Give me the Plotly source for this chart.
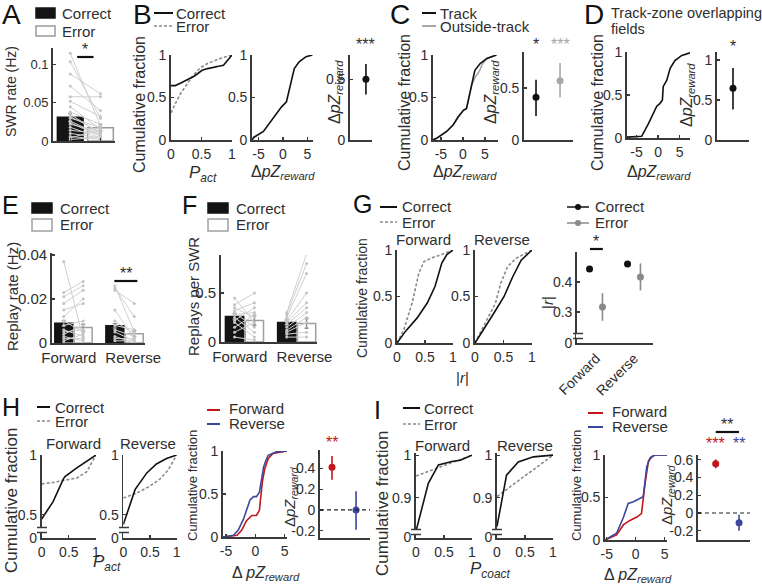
import plotly.graph_objects as go

W, H = 762, 587
AXIS = "#3a3a3a"
TEXT = "#2e2e2e"
PAIR = "#d0d0d0"
GRAY = "#8a8a8a"
LIGHT = "#a8a8a8"
RED = "#c3161c"
BLUE = "#3b479c"
FONT = "Liberation Sans, Arial, sans-serif"

# ---------------- data ----------------
# A: SWR rate, correct vs error
swr_groups = ["Correct", "Error"]
swr_mean = [0.031, 0.0175]
swr_sem = [0.005, 0.004]
swr_correct = [0.115, 0.104, 0.088, 0.072, 0.058, 0.052, 0.045, 0.038, 0.035, 0.032,
               0.030, 0.026, 0.024, 0.022, 0.018, 0.014, 0.010, 0.006, 0.004, 0.002]
swr_error = [0.020, 0.030, 0.062, 0.040, 0.058, 0.032, 0.015, 0.022, 0.010, 0.012,
             0.018, 0.008, 0.006, 0.012, 0.004, 0.010, 0.004, 0.002, 0.015, 0.005]

# B: P_act cdf, dpZ cdf, mean dpZ
pact_cor_x = [0, 0.07, 0.16, 0.31, 0.38, 0.51, 0.6, 0.8, 0.86, 1.0]
pact_cor_y = [0.64, 0.64, 0.67, 0.73, 0.75, 0.82, 0.84, 0.87, 0.88, 1.0]
pact_err_x = [0, 0.05, 0.1, 0.16, 0.26, 0.35, 0.48, 0.6, 0.7, 0.85, 1.0]
pact_err_y = [0.32, 0.4, 0.47, 0.55, 0.66, 0.75, 0.85, 0.9, 0.93, 0.97, 1.0]
dpz_x = [-6.3, -6.0, -4.0, -2.7, -1.3, -0.3, 0.7, 1.0, 1.7, 2.3, 3.3, 4.7, 6.0]
dpz_y = [0.0, 0.03, 0.1, 0.2, 0.31, 0.39, 0.45, 0.53, 0.71, 0.84, 0.92, 0.98, 1.0]
dpz_mean = [0.5]
dpz_ci = [0.125]

# C: track vs outside-track
track_x = [-6.8, -6.0, -3.7, -2.2, -1.1, 0.1, 0.8, 1.2, 2.0, 2.7, 3.9, 5.4, 7.6]
track_y = [0, 0.02, 0.1, 0.18, 0.27, 0.35, 0.37, 0.47, 0.67, 0.82, 0.9, 0.96, 1.0]
outside_x = [-6.8, -6.0, -3.7, -2.2, -1.1, 0.1, 0.8, 1.2, 2.0, 2.9, 3.6, 4.5, 5.5, 7.6]
outside_y = [0, 0.02, 0.1, 0.18, 0.27, 0.35, 0.37, 0.47, 0.65, 0.75, 0.8, 0.9, 0.96, 1.0]
zone_mean = [0.41, 0.57]
zone_up = [0.17, 0.17]
zone_down = [0.18, 0.16]

# D: track-zone overlapping fields
overlap_x = [-7.2, -3.8, -2.2, -1.1, -0.3, 0.4, 1.0, 1.2, 2.0, 2.8, 3.9, 5.5, 7.4]
overlap_y = [0.01, 0.02, 0.17, 0.29, 0.37, 0.4, 0.44, 0.6, 0.67, 0.81, 0.9, 0.96, 0.99]
overlap_mean = [0.646]
overlap_up = [0.254]
overlap_down = [0.266]

# E: replay rate
directions = ["Forward", "Reverse"]
rate_cor = [0.009, 0.0078]
rate_err = [0.007, 0.0042]
rate_cor_sem = [0.0012, 0.001]
rate_err_sem = [0.0015, 0.0012]
rate_fwd_cor = [0.037, 0.023, 0.021, 0.018, 0.015, 0.012, 0.010, 0.008, 0.006, 0.005, 0.004, 0.003, 0.002, 0.001, 0.0]
rate_fwd_err = [0.002, 0.028, 0.026, 0.024, 0.018, 0.020, 0.005, 0.010, 0.003, 0.006, 0.008, 0.001, 0.002, 0.004, 0.0]
rate_rev_cor = [0.026, 0.025, 0.024, 0.015, 0.010, 0.008, 0.006, 0.005, 0.003, 0.002, 0.001]
rate_rev_err = [0.005, 0.012, 0.018, 0.002, 0.004, 0.006, 0.003, 0.001, 0.0, 0.002, 0.001]

# F: replays per SWR
per_cor = [0.26, 0.2]
per_err = [0.22, 0.19]
per_cor_sem = [0.03, 0.025]
per_err_sem = [0.05, 0.05]
per_fwd_cor = [0.45, 0.38, 0.35, 0.32, 0.30, 0.28, 0.25, 0.22, 0.20, 0.15, 0.10, 0.05]
per_fwd_err = [0.20, 0.50, 0.25, 0.40, 0.15, 0.30, 0.10, 0.35, 0.05, 0.28, 0.20, 0.02]
per_rev_cor = [0.30, 0.28, 0.25, 0.22, 0.20, 0.18, 0.15, 0.12, 0.10, 0.08, 0.05]
per_rev_err = [0.90, 0.80, 0.70, 0.50, 0.40, 0.35, 0.30, 0.25, 0.20, 0.10, 0.05]

# G: |r| cdfs and means
g_fwd_cor_x = [0, 0.15, 0.36, 0.54, 0.68, 0.8, 0.89, 1.0]
g_fwd_cor_y = [0, 0.125, 0.27, 0.43, 0.61, 0.86, 0.95, 1.0]
g_fwd_err_x = [0, 0.12, 0.27, 0.39, 0.48, 0.6, 0.83, 1.0]
g_fwd_err_y = [0, 0.14, 0.43, 0.75, 0.875, 0.91, 0.96, 1.0]
g_rev_cor_x = [0, 0.15, 0.33, 0.51, 0.66, 0.81, 0.93, 1.0]
g_rev_cor_y = [0, 0.14, 0.32, 0.5, 0.71, 0.89, 0.96, 1.0]
g_rev_err_x = [0, 0.21, 0.36, 0.45, 0.57, 0.72, 0.87, 1.0]
g_rev_err_y = [0, 0.25, 0.43, 0.64, 0.82, 0.91, 0.96, 1.0]
r_cor_mean = [0.443, 0.46]
r_cor_sem = [0.008, 0.008]
r_err_mean = [0.317, 0.417]
r_err_sem = [0.046, 0.045]

# H: P_act by direction, dpZ by direction
h_fwd_cor_x = [0, 0.21, 0.4, 0.43, 0.64, 1.0]
h_fwd_cor_y = [0.464, 0.61, 0.80, 0.82, 0.89, 1.0]
h_fwd_err_x = [0, 0.21, 0.43, 0.64, 0.83, 1.0]
h_fwd_err_y = [0.758, 0.77, 0.79, 0.806, 0.86, 1.0]
h_rev_cor_x = [0, 0.125, 0.22, 0.44, 0.62, 0.81, 1.0]
h_rev_cor_y = [0.417, 0.583, 0.71, 0.85, 0.925, 0.97, 1.0]
h_rev_err_x = [0, 0.25, 0.5, 0.69, 0.84, 1.0]
h_rev_err_y = [0.64, 0.68, 0.74, 0.80, 0.875, 1.0]
h_dpz_fwd_x = [-5.5, -3.1, -2.3, -1.5, -0.6, 0.2, 0.7, 0.9, 1.2, 1.6, 2.2, 3.0, 5.4]
h_dpz_fwd_y = [0, 0.02, 0.08, 0.19, 0.25, 0.25, 0.31, 0.43, 0.64, 0.79, 0.91, 0.97, 1.0]
h_dpz_rev_x = [-5.5, -3.7, -2.9, -2.0, -1.5, -0.9, -0.3, 0.2, 0.7, 1.1, 1.4, 1.8, 2.2, 3.6, 5.4]
h_dpz_rev_y = [0, 0.02, 0.08, 0.21, 0.31, 0.43, 0.47, 0.47, 0.52, 0.66, 0.81, 0.89, 0.95, 0.99, 1.0]
h_mean = [0.41, 0.0]
h_up = [0.11, 0.18]
h_down = [0.12, 0.19]

# I: P_coact by direction, dpZ by direction
i_fwd_cor_x = [0, 0.22, 0.4, 0.64, 0.79, 1.0]
i_fwd_cor_y = [0.822, 0.934, 0.977, 0.985, 0.988, 1.0]
i_fwd_err_x = [0, 1.0]
i_fwd_err_y = [0.951, 1.0]
i_rev_cor_x = [0, 0.17, 0.38, 0.65, 1.0]
i_rev_cor_y = [0.833, 0.953, 0.984, 0.996, 1.0]
i_rev_err_x = [0, 1.0]
i_rev_err_y = [0.903, 1.0]
i_dpz_fwd_x = [-5.3, -3.3, -2.1, -1.0, 0.2, 1.0, 1.6, 2.2, 3.1, 5.4]
i_dpz_fwd_y = [0, 0.06, 0.18, 0.23, 0.27, 0.31, 0.66, 0.93, 1.0, 1.0]
i_dpz_rev_x = [-5.3, -3.3, -2.1, -1.3, -0.4, 0.75, 1.3, 1.9, 2.5, 3.4, 5.4]
i_dpz_rev_y = [0, 0.08, 0.27, 0.43, 0.45, 0.49, 0.51, 0.86, 0.97, 1.0, 1.0]
i_mean = [0.555, -0.11]
i_err = [0.05, 0.09]

DPZ = "Δ<i>pZ</i><sub><i>reward</i></sub>"
DPZ_SP = "Δ <i>pZ</i><sub><i>reward</i></sub>"

fig = go.Figure()
axes_layout = {}


def sid(n):
    return "" if n == 1 else str(n)


def add_axes(n, xpx, ypx, xr, yr, xticks=None, yticks=None, xlabels=None, ylabels=None,
             size=14, xkw=None, ykw=None):
    """Axis pair placed by pixel box (left,right) x (top,bottom)"""
    s = sid(n)
    base = dict(showline=True, linecolor=AXIS, linewidth=1.8, showgrid=False, zeroline=False,
                ticks="inside", ticklen=3, tickwidth=1.2, tickcolor=AXIS, tickangle=0,
                automargin=False,
                tickfont=dict(size=size, color=TEXT, family=FONT), fixedrange=True)
    xa = dict(base, domain=[xpx[0] / W, xpx[1] / W], range=xr, anchor="y" + s)
    ya = dict(base, domain=[1 - ypx[1] / H, 1 - ypx[0] / H], range=yr, anchor="x" + s)
    for a, vals, labs in ((xa, xticks, xlabels), (ya, yticks, ylabels)):
        if vals is None:
            a.update(showticklabels=False, ticks="")
        else:
            a.update(tickmode="array", tickvals=vals,
                     ticktext=labs if labs else [f"{v:g}" for v in vals])
    xa.update(xkw or {})
    ya.update(ykw or {})
    axes_layout["xaxis" + s] = xa
    axes_layout["yaxis" + s] = ya


def curve(n, x, y, color, dash="solid", width=1.6):
    s = sid(n)
    fig.add_trace(go.Scatter(x=x, y=y, mode="lines", line=dict(color=color, width=width, dash=dash),
                             xaxis="x" + s, yaxis="y" + s, hoverinfo="skip"))


def dots(n, x, y, up, down, color, size=7):
    s = sid(n)
    fig.add_trace(go.Scatter(x=x, y=y, mode="markers", marker=dict(color=color, size=size),
                             error_y=dict(type="data", array=up, arrayminus=down, color=color,
                                          thickness=1.6, width=0),
                             xaxis="x" + s, yaxis="y" + s, cliponaxis=False, hoverinfo="skip"))


def bars(n, x, y, sem, fill, outline, width):
    s = sid(n)
    fig.add_trace(go.Bar(x=x, y=y, width=width,
                         marker=dict(color=fill, line=dict(color=outline, width=1.5)),
                         error_y=dict(type="data", array=sem, color="#8f8f8f", thickness=1.5, width=2),
                         xaxis="x" + s, yaxis="y" + s, hoverinfo="skip"))


def pairs(n, x0, x1, a, b):
    xs, ys = [], []
    for u, v in zip(a, b):
        xs += [x0, x1, None]
        ys += [u, v, None]
    s = sid(n)
    fig.add_trace(go.Scatter(x=xs, y=ys, mode="lines+markers",
                             line=dict(color=PAIR, width=1), marker=dict(color="#c4c4c4", size=3),
                             xaxis="x" + s, yaxis="y" + s, hoverinfo="skip"))


def label(px, py, s, size=14, color=TEXT, angle=0, anchor="center"):
    fig.add_annotation(x=px / W, y=1 - py / H, xref="paper", yref="paper", text=s, showarrow=False,
                       font=dict(size=size, color=color, family=FONT), textangle=angle,
                       xanchor=anchor, yanchor="middle")


def stars(n, xv, py, s, color=TEXT, size=16):
    fig.add_annotation(x=xv, y=1 - py / H, xref="x" + sid(n), yref="paper", text=s, showarrow=False,
                       font=dict(size=size, color=color, family=FONT), xanchor="center", yanchor="middle")


def sig_line(n, xa, xb, py):
    fig.add_shape(type="line", xref="x" + sid(n), yref="paper", x0=xa, x1=xb,
                  y0=1 - py / H, y1=1 - py / H, line=dict(color="#111111", width=2.2))


def seg(x0, x1, py, color, dash="solid", width=2):
    fig.add_shape(type="line", xref="paper", yref="paper", x0=x0 / W, x1=x1 / W,
                  y0=1 - py / H, y1=1 - py / H, line=dict(color=color, width=width, dash=dash))


def box(x0, y0, x1, y1, fill, line):
    fig.add_shape(type="rect", xref="paper", yref="paper", x0=x0 / W, x1=x1 / W,
                  y0=1 - y1 / H, y1=1 - y0 / H, fillcolor=fill, line=dict(color=line, width=1.5))


def axis_break(px, py):
    fig.add_shape(type="rect", xref="paper", yref="paper", x0=(px - 2) / W, x1=(px + 2) / W,
                  y0=1 - (py + 2.5) / H, y1=1 - (py - 2.5) / H, fillcolor="white", line=dict(width=0))
    for dy in (-2.5, 2.5):
        seg(px - 5, px + 5, py + dy, AXIS, width=1.5)


# ---------------- A ----------------
swr_x = [i + 1 for i in range(len(swr_groups))]
add_axes(1, (53, 115), (48, 141), [0.43, 2.48], [0, 0.122], yticks=[0, 0.05, 0.1], size=13,
         xkw=dict(tickmode="array", tickvals=swr_x, ticktext=["", ""], ticks="inside", showticklabels=True))
bars(1, swr_x[:1], swr_mean[:1], swr_sem[:1], "#141414", "#141414", 0.85)
bars(1, swr_x[1:], swr_mean[1:], swr_sem[1:], "white", "#9a9a9a", 0.85)
pairs(1, swr_x[0], swr_x[1], swr_correct, swr_error)
sig_line(1, 1.23, 1.77, 57)
stars(1, 1.5, 50, "*")
label(11, 14, "A", 28, "#111")
box(36, 8, 55, 18, "#141414", "#141414")
label(60, 13, "Correct", 15, anchor="left")
box(36, 26, 55, 36, "white", "#9a9a9a")
label(60, 31, "Error", 15, anchor="left")
label(11, 92, "SWR rate (Hz)", 14, angle=-90)

# ---------------- B ----------------
add_axes(2, (171, 232), (55, 140), [0, 1], [0, 1], [0, 0.5, 1], [0, 0.5, 1])
curve(2, pact_err_x, pact_err_y, GRAY, "3px,2px")
curve(2, pact_cor_x, pact_cor_y, "#111")
add_axes(3, (252, 313), (55, 140), [-6.33, 6.12], [0, 1], [-5, 0, 5], [0, 0.5, 1])
curve(3, dpz_x, dpz_y, "#111")
add_axes(4, (350, 372), (55, 140), [0, 1.38], [0, 0.7], yticks=[0, 0.5])
dots(4, [1], dpz_mean, dpz_ci, dpz_ci, "#111")
stars(4, 1, 45, "***")
label(142, 14, "B", 28, "#111")
seg(154, 173, 13, "#111")
label(174, 13, "Correct", 15, anchor="left")
seg(154, 173, 26, GRAY, "3px,2px", 1.6)
label(174, 26, "Error", 15, anchor="left")
label(139, 105, "Cumulative fraction", 16, angle=-90)
label(203, 174, "<i>P</i><sub><i>act</i></sub>", 17)
label(283, 172, DPZ, 16)
label(335, 92, DPZ, 16, angle=-90)

# ---------------- C ----------------
add_axes(5, (433, 498), (55, 140), [-6.8, 7.95], [0, 1], [-5, 0, 5], [0, 0.5, 1])
curve(5, outside_x, outside_y, LIGHT)
curve(5, track_x, track_y, "#111")
add_axes(6, (524, 573), (52, 140), [0.5, 2.54], [0, 0.846], yticks=[0, 0.5])
dots(6, [1], zone_mean[:1], zone_up[:1], zone_down[:1], "#111")
dots(6, [2], zone_mean[1:], zone_up[1:], zone_down[1:], LIGHT)
stars(6, 1, 45, "*")
stars(6, 2, 45, "***", LIGHT)
label(400, 14, "C", 28, "#111")
seg(422, 436, 13, "#111")
label(438, 13, "Track", 15, anchor="left")
seg(422, 436, 26, LIGHT)
label(438, 26, "Outside-track", 15, anchor="left")
label(404, 103, "Cumulative fraction", 16, angle=-90)
label(465, 172, DPZ, 16)
label(491, 92, DPZ, 16, angle=-90)

# ---------------- D ----------------
add_axes(7, (627, 690), (52, 138), [-7.2, 7.4], [0, 1], [-5, 0, 5], [0, 0.5, 1])
curve(7, overlap_x, overlap_y, "#111")
add_axes(8, (717, 749), (52, 140), [0, 2], [0, 1.1], yticks=[0, 0.5, 1])
dots(8, [1], overlap_mean, overlap_up, overlap_down, "#111")
stars(8, 1, 47, "*")
label(594, 14, "D", 28, "#111")
label(609, 13, "Track-zone overlapping", 14.5, anchor="left")
label(609, 29, "fields", 14.5, anchor="left")
label(597, 103, "Cumulative fraction", 16, angle=-90)
label(659, 172, DPZ, 16)
label(687, 95, DPZ, 16, angle=-90)

# ---------------- E ----------------
dir_idx = list(range(len(directions)))
add_axes(9, (52, 145), (253, 343), [-0.42, 1.40], [0, 0.0409], [-0.09, 1.17], [0, 0.02, 0.04],
         xlabels=directions, size=15, xkw=dict(ticks=""))
bars(9, [i - 0.19 for i in dir_idx], rate_cor, rate_cor_sem, "#141414", "#141414", 0.35)
bars(9, [i + 0.19 for i in dir_idx], rate_err, rate_err_sem, "white", "#a0a0a0", 0.35)
pairs(9, -0.19, 0.19, rate_fwd_cor, rate_fwd_err)
pairs(9, 0.81, 1.19, rate_rev_cor, rate_rev_err)
sig_line(9, 0.8, 1.25, 281)
stars(9, 1.02, 274, "**")
label(10, 205, "E", 25, "#111")
box(32, 203, 52, 213, "#141414", "#141414")
label(58, 208, "Correct", 15, anchor="left")
box(32, 219, 52, 231, "white", "#a0a0a0")
label(58, 225, "Error", 15, anchor="left")
label(13, 297, "Replay rate (Hz)", 15, angle=-90)

# ---------------- F ----------------
add_axes(10, (221, 317), (255, 342), [-0.45, 1.39], [0, 0.888], [-0.09, 1.15], [0, 0.5],
         xlabels=directions, size=15, xkw=dict(ticks=""))
bars(10, [i - 0.19 for i in dir_idx], per_cor, per_cor_sem, "#141414", "#141414", 0.35)
bars(10, [i + 0.19 for i in dir_idx], per_err, per_err_sem, "white", "#a0a0a0", 0.35)
pairs(10, -0.19, 0.19, per_fwd_cor, per_fwd_err)
pairs(10, 0.81, 1.19, per_rev_cor, per_rev_err)
label(189, 205, "F", 25, "#111")
box(208, 203, 228, 213, "#141414", "#141414")
label(234, 208, "Correct", 15, anchor="left")
box(208, 219, 228, 231, "white", "#a0a0a0")
label(234, 225, "Error", 15, anchor="left")
label(194, 297, "Replays per SWR", 15, angle=-90)

# ---------------- G ----------------
add_axes(11, (397, 453), (250, 343), [0, 1], [0, 1], [0, 0.5, 1], [0, 0.5, 1])
curve(11, g_fwd_err_x, g_fwd_err_y, GRAY, "3px,2px")
curve(11, g_fwd_cor_x, g_fwd_cor_y, "#111")
add_axes(12, (475, 532), (250, 343), [0, 1], [0, 1], [0, 0.5, 1], [0, 0.5, 1])
curve(12, g_rev_err_x, g_rev_err_y, GRAY, "3px,2px")
curve(12, g_rev_cor_x, g_rev_cor_y, "#111")
add_axes(13, (577, 653), (252, 343), [-0.5, 1.5], [0.197, 0.5], dir_idx, [0.197, 0.3, 0.4],
         xlabels=directions, ylabels=["0", "0.3", "0.4"], size=14, xkw=dict(ticks="", tickangle=-45))
dots(13, [i - 0.17 for i in dir_idx], r_cor_mean, r_cor_sem, r_cor_sem, "#111")
dots(13, [i + 0.17 for i in dir_idx], r_err_mean, r_err_sem, r_err_sem, GRAY)
axis_break(578, 336)
sig_line(13, -0.16, 0.18, 249)
stars(13, 0.01, 241, "*")
label(362, 204, "G", 25, "#111")
seg(380, 397, 207, "#111")
label(400, 207, "Correct", 15, anchor="left")
seg(380, 397, 222, GRAY, "3px,2px", 1.6)
label(400, 222, "Error", 15, anchor="left")
seg(567, 589, 207, "#111", width=1.5)
fig.add_shape(type="circle", xref="paper", yref="paper", x0=575 / W, x1=581 / W,
              y0=1 - 210 / H, y1=1 - 204 / H, fillcolor="#111", line=dict(width=0))
label(593, 207, "Correct", 15, anchor="left")
seg(567, 589, 223, GRAY, width=1.5)
fig.add_shape(type="circle", xref="paper", yref="paper", x0=575 / W, x1=581 / W,
              y0=1 - 226 / H, y1=1 - 220 / H, fillcolor=GRAY, line=dict(width=0))
label(593, 223, "Error", 15, anchor="left")
label(423, 239, "Forward", 15)
label(502, 239, "Reverse", 15)
label(362, 298, "Cumulative fraction", 14, angle=-90)
label(463, 377, "|<i>r</i>|", 15)
label(547, 303, "|<i>r</i>|", 15, angle=-90)

# ---------------- H ----------------
add_axes(14, (41.7, 96), (455, 538), [0, 1], [0.305, 1.0], [0, 0.5, 1], [0.308, 0.5, 1],
         ylabels=["0", "0.5", "1"])
curve(14, h_fwd_err_x, h_fwd_err_y, GRAY, "3px,2px")
curve(14, h_fwd_cor_x, h_fwd_cor_y, "#111")
axis_break(42, 530)
add_axes(15, (123.3, 176.7), (455, 538), [0, 1], [0.305, 1.0], [0, 0.5, 1], [0.308, 0.5, 1],
         ylabels=["0", "0.5", "1"])
curve(15, h_rev_err_x, h_rev_err_y, GRAY, "3px,2px")
curve(15, h_rev_cor_x, h_rev_cor_y, "#111")
axis_break(124, 530)
add_axes(16, (223, 287), (451, 537), [-5.5, 5.4], [0, 1], [-5, 0, 5], [0, 0.5, 1])
curve(16, h_dpz_fwd_x, h_dpz_fwd_y, RED)
curve(16, h_dpz_rev_x, h_dpz_rev_y, BLUE)
add_axes(17, (320, 370), (450, 538), [0.5, 2.58], [-0.27, 0.577], yticks=[-0.2, 0, 0.2, 0.4])
fig.add_shape(type="line", xref="x17 domain", yref="y17", x0=0, x1=1, y0=0, y1=0,
              line=dict(color="#222", width=1.2, dash="4px,3px"))
dots(17, [1], h_mean[:1], h_up[:1], h_down[:1], RED)
dots(17, [2], h_mean[1:], h_up[1:], h_down[1:], BLUE)
stars(17, 1, 442, "**", RED)
label(11, 407, "H", 25, "#111")
seg(37, 50, 407, "#111")
label(53, 407, "Correct", 15, anchor="left")
seg(37, 50, 421, GRAY, "3px,2px", 1.6)
label(53, 421, "Error", 15, anchor="left")
seg(207, 220, 410, RED)
label(227, 408, "Forward", 15, anchor="left")
seg(207, 220, 424, BLUE)
label(227, 423, "Reverse", 15, anchor="left")
label(73, 443, "Forward", 15)
label(148, 443, "Reverse", 15)
label(11, 500, "Cumulative fraction", 17, angle=-90)
label(107, 563, "<i>P</i><sub><i>act</i></sub>", 17)
label(192, 486, "Cumulative fraction", 13, angle=-90)
label(266, 573, DPZ_SP, 16)
label(290, 497, DPZ, 15, angle=-90)

# ---------------- I ----------------
add_axes(18, (416, 472), (453, 538), [0, 1], [0.806, 1.005], [0, 0.5, 1], [0.807, 0.9, 1],
         ylabels=["0", "0.9", "1"])
curve(18, i_fwd_err_x, i_fwd_err_y, GRAY, "3px,2px")
curve(18, i_fwd_cor_x, i_fwd_cor_y, "#111")
axis_break(416, 532)
add_axes(19, (497, 553), (453, 538), [0, 1], [0.806, 1.005], [0, 0.5, 1], [0.807, 0.9, 1],
         ylabels=["0", "0.9", "1"])
curve(19, i_rev_err_x, i_rev_err_y, GRAY, "3px,2px")
curve(19, i_rev_cor_x, i_rev_cor_y, "#111")
axis_break(497, 532)
add_axes(20, (605, 667), (455, 540), [-5.3, 5.4], [0, 1], [-5, 0, 5], [0, 0.5, 1])
curve(20, i_dpz_fwd_x, i_dpz_fwd_y, RED)
curve(20, i_dpz_rev_x, i_dpz_rev_y, BLUE)
add_axes(21, (698, 750), (455, 540), [0.24, 2.47], [-0.305, 0.655],
         yticks=[-0.2, 0, 0.2, 0.4, 0.6])
fig.add_shape(type="line", xref="x21 domain", yref="y21", x0=0, x1=1, y0=0, y1=0,
              line=dict(color="#222", width=1.2, dash="4px,3px"))
dots(21, [1], i_mean[:1], i_err[:1], i_err[:1], RED)
dots(21, [2], i_mean[1:], i_err[1:], i_err[1:], BLUE)
sig_line(21, 1, 2, 432)
stars(21, 1.5, 424, "**")
stars(21, 1, 443, "***", RED)
stars(21, 2, 443, "**", BLUE)
label(377, 410, "I", 25, "#111")
seg(403, 420, 408, "#111")
label(422, 408, "Correct", 15, anchor="left")
seg(403, 420, 424, GRAY, "3px,2px", 1.6)
label(422, 424, "Error", 15, anchor="left")
seg(588, 603, 413, RED)
label(610, 411, "Forward", 15, anchor="left")
seg(588, 603, 427, BLUE)
label(610, 426, "Reverse", 15, anchor="left")
label(442, 445, "Forward", 15)
label(525, 445, "Reverse", 15)
label(382, 503, "Cumulative fraction", 17, angle=-90)
label(490, 570, "<i>P</i><sub><i>coact</i></sub>", 17)
label(576, 486, "Cumulative fraction", 13, angle=-90)
label(638, 575, DPZ_SP, 16)
label(667, 495, DPZ, 15, angle=-90)

fig.update_layout(width=W, height=H, margin=dict(l=0, r=0, t=0, b=0, autoexpand=False),
                  paper_bgcolor="white", plot_bgcolor="white", showlegend=False,
                  barmode="overlay", font=dict(family=FONT, color=TEXT), **axes_layout)

# the page body has a default 8px margin; drop it so the figure sits at the window corner
fig.write_html("out.html", config={"displayModeBar": False, "staticPlot": True},
               post_script="document.body.style.margin='0';document.body.style.overflow='hidden';")
